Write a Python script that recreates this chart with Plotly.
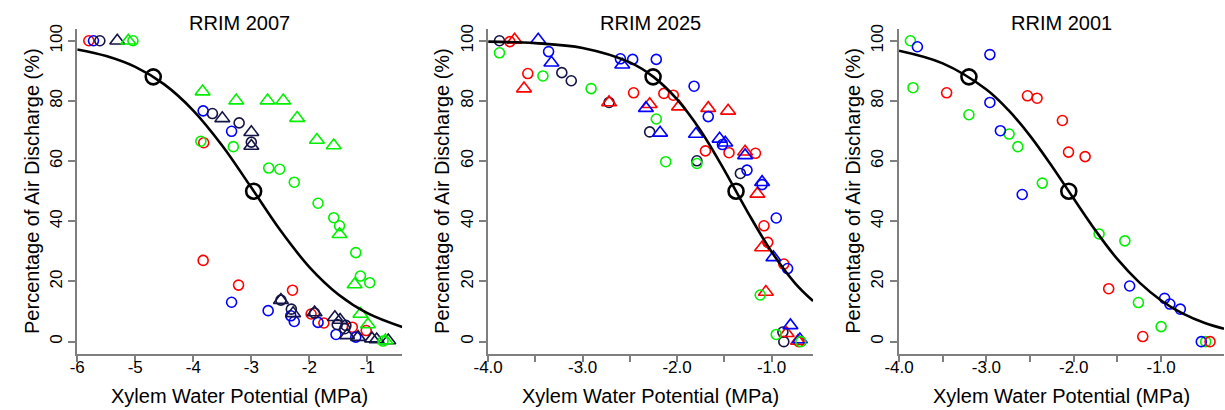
import plotly.graph_objects as go

# ---------------- DATA ----------------
panel_titles = ["RRIM 2007", "RRIM 2025", "RRIM 2001"]
x_title = "Xylem Water Potential (MPa)"
y_title = "Percentage of Air Discharge (%)"

y_tick_vals = [0, 20, 40, 60, 80, 100]
y_tick_text = ["0", "20", "40", "60", "80", "100"]

p1_tick_vals = [-6, -5, -4, -3, -2, -1]
p1_tick_text = ["-6", "-5", "-4", "-3", "-2", "-1"]
p23_tick_vals = [-4.0, -3.5, -3.0, -2.5, -2.0, -1.5, -1.0]
p23_tick_text = ["-4.0", "", "-3.0", "", "-2.0", "", "-1.0"]

# tree: R, B, G, N ; set: c (circle series), t (triangle series)
rrim2007_x = [-5.80, -3.82, -3.83, -3.22, -2.29, -1.97, -1.75, -1.26, -1.02,
              -5.72, -3.83, -3.34, -3.34, -2.71, -2.32, -2.26, -1.85, -1.54, -1.20,
              -5.61, -3.67, -3.21, -3.00, -2.49, -2.31, -1.91, -1.52, -1.39, -1.37,
              -5.31, -3.50, -3.00, -3.00, -2.49, -2.28, -1.91, -1.56, -1.47, -1.35, -1.16, -0.92, -0.84, -0.64,
              -5.12, -3.84, -3.26, -2.72, -2.45, -2.21, -1.87, -1.58, -1.48, -1.22, -1.12, -0.99, -0.69,
              -5.04, -3.87, -3.31, -2.70, -2.51, -2.26, -1.85, -1.58, -1.48, -1.20, -1.12, -0.96, -0.73]
rrim2007_y = [100, 66.1, 27.0, 18.8, 17.1, 9.2, 6.2, 4.8, 3.7,
              100, 76.7, 69.9, 13.1, 10.3, 8.6, 6.7, 6.4, 2.4, 1.5,
              100, 75.8, 72.7, 66.3, 13.8, 10.8, 9.5, 5.7, 4.3, 5.4,
              100, 74.2, 69.6, 65.0, 13.8, 9.4, 9.7, 8.1, 7.2, 2.1, 1.5, 1.0, 0.7, 0.4,
              100, 83.1, 80.1, 80.1, 80.1, 74.3, 67.0, 65.2, 35.7, 19.0, 9.2, 5.7, 0.4,
              100, 66.6, 64.8, 57.7, 57.3, 53.0, 46.0, 41.2, 38.5, 29.6, 21.8, 19.6, 0.2]
rrim2007_tree = ["R"] * 9 + ["B"] * 10 + ["N"] * 10 + ["N"] * 14 + ["G"] * 13 + ["G"] * 13
rrim2007_set = ["c"] * 9 + ["c"] * 10 + ["c"] * 10 + ["t"] * 14 + ["t"] * 13 + ["c"] * 13

rrim2025_x = [-3.88, -3.22, -3.12, -2.72, -2.29, -1.79, -1.33, -0.88, -0.87,
              -3.77, -3.58, -2.46, -2.14, -2.04, -1.70, -1.45, -1.17, -1.08, -1.04, -0.87, -0.71,
              -3.72, -3.62, -2.72, -2.29, -1.98, -1.67, -1.46, -1.28, -1.15, -1.10, -1.06, -0.84, -0.72,
              -3.47, -3.33, -2.58, -2.33, -2.18, -1.80, -1.55, -1.49, -1.28, -1.10, -0.98, -0.80, -0.70,
              -3.36, -2.60, -2.47, -2.22, -1.82, -1.67, -1.52, -1.26, -1.10, -0.95, -0.83,
              -3.88, -3.42, -2.91, -2.22, -2.12, -1.79, -1.12, -0.95, -0.69]
rrim2025_y = [100, 89.4, 86.7, 79.5, 69.7, 60.1, 55.9, 3.2, 0.0,
              99.7, 89.1, 82.7, 82.5, 81.9, 63.4, 62.8, 62.6, 38.5, 33.0, 25.8, 0.0,
              100.3, 84.1, 79.5, 78.9, 78.1, 77.6, 76.7, 63.1, 49.1, 31.3, 16.5, 2.8, 0.2,
              100.3, 92.7, 92.0, 77.6, 69.4, 69.0, 67.4, 66.1, 61.9, 53.0, 28.0, 5.4, 0.7,
              96.4, 94.0, 93.8, 93.8, 84.9, 74.8, 65.5, 57.0, 52.2, 41.1, 24.3,
              96.0, 88.3, 84.1, 74.0, 59.8, 59.2, 15.5, 2.4, 0.0]
rrim2025_tree = ["N"] * 9 + ["R"] * 12 + ["R"] * 13 + ["B"] * 13 + ["B"] * 11 + ["G"] * 9
rrim2025_set = ["c"] * 9 + ["c"] * 12 + ["t"] * 13 + ["t"] * 13 + ["c"] * 11 + ["c"] * 9

rrim2001_x = [-3.87, -3.84, -3.20, -2.74, -2.64, -2.36, -1.71, -1.415, -1.26, -1.00, -0.49,
              -3.79, -2.96, -2.96, -2.84, -2.59, -1.36, -0.96, -0.90, -0.78, -0.54,
              -3.455, -2.53, -2.42, -2.13, -2.06, -1.87, -1.60, -1.21, -0.44]
rrim2001_y = [100, 84.4, 75.4, 69.0, 64.8, 52.7, 35.8, 33.5, 13.0, 5.0, 0.0,
              98.0, 95.4, 79.5, 70.1, 48.9, 18.5, 14.4, 12.5, 10.8, 0.0,
              82.7, 81.7, 80.9, 73.5, 63.0, 61.5, 17.6, 1.7, 0.0]
rrim2001_tree = ["G"] * 11 + ["B"] * 10 + ["R"] * 9
rrim2001_set = ["c"] * 30

# fitted vulnerability curves
curve2007_x = [-6.0, -5.5, -5.0, -4.5, -4.0, -3.5, -3.0, -2.5, -2.0, -1.5, -1.0, -0.4]
curve2007_y = [97.1, 94.9, 91.3, 85.5, 76.8, 65.1, 51.2, 37.0, 24.8, 15.7, 9.5, 4.9]
curve2025_x = [-4.0, -3.5, -3.0, -2.5, -2.25, -2.0, -1.75, -1.5, -1.25, -1.0, -0.75, -0.56]
curve2025_y = [99.7, 99.2, 97.6, 92.8, 88.0, 80.5, 70.1, 57.0, 42.9, 29.9, 19.4, 13.5]
curve2001_x = [-4.0, -3.5, -3.0, -2.75, -2.5, -2.25, -2.0, -1.75, -1.5, -1.25, -1.0, -0.75, -0.5, -0.28]
curve2001_y = [96.7, 92.5, 83.8, 77.0, 68.4, 58.3, 47.5, 36.9, 27.4, 19.7, 13.7, 9.3, 6.2, 4.3]

# P12 / P50 points on the curves
p_marks_2007_x = [-4.69, -2.96]
p_marks_2025_x = [-2.254, -1.376]
p_marks_2001_x = [-3.20, -2.057]
p_marks_y = [88, 50]

# ---------------- STYLE ----------------
FONT = "Liberation Sans, Arial, sans-serif"
tree_colors = {"R": "#ff0000", "B": "#0000ff", "G": "#00f000", "N": "#141446"}
set_symbols = {"c": "circle-open", "t": "triangle-up-open"}
set_sizes = {"c": 10, "t": 13}
AXIS_GRAY = "#7f7f7f"

W, H = 1225, 410
plot_left = [63, 479, 895]
plot_w = 329
plot_top, plot_bot = 24, 353

fig = go.Figure()

panels = [
    (rrim2007_x, rrim2007_y, rrim2007_tree, rrim2007_set, curve2007_x, curve2007_y, p_marks_2007_x,
     [-6.0, -0.4], p1_tick_vals, p1_tick_text),
    (rrim2025_x, rrim2025_y, rrim2025_tree, rrim2025_set, curve2025_x, curve2025_y, p_marks_2025_x,
     [-4.0, -0.56], p23_tick_vals, p23_tick_text),
    (rrim2001_x, rrim2001_y, rrim2001_tree, rrim2001_set, curve2001_x, curve2001_y, p_marks_2001_x,
     [-4.0, -0.28], p23_tick_vals, p23_tick_text),
]

annotations = []
for i, (xs, ys, trees, sets, cx, cy, pmx, xr, tv, tt) in enumerate(panels):
    n = "" if i == 0 else str(i + 1)
    xa, ya = "x" + n, "y" + n
    groups = []
    for t, s in zip(trees, sets):
        if (t, s) not in groups:
            groups.append((t, s))
    for t, s in groups:
        gx = [x for x, tt_, ss in zip(xs, trees, sets) if tt_ == t and ss == s]
        gy = [y for y, tt_, ss in zip(ys, trees, sets) if tt_ == t and ss == s]
        fig.add_trace(go.Scatter(
            x=gx, y=gy, mode="markers", xaxis=xa, yaxis=ya, showlegend=False,
            marker=dict(symbol=set_symbols[s], size=set_sizes[s], color=tree_colors[t],
                        line=dict(width=1.6, color=tree_colors[t])),
            cliponaxis=False))
    fig.add_trace(go.Scatter(x=cx, y=cy, mode="lines", xaxis=xa, yaxis=ya, showlegend=False,
                             line=dict(color="black", width=2.6, shape="spline", smoothing=1.0)))
    fig.add_trace(go.Scatter(x=pmx, y=p_marks_y, mode="markers", xaxis=xa, yaxis=ya, showlegend=False,
                             marker=dict(symbol="circle-open", size=15, color="black",
                                         line=dict(width=2.6, color="black"))))
    x0 = plot_left[i] / W
    x1 = (plot_left[i] + plot_w) / W
    axis_common = dict(showline=True, linecolor=AXIS_GRAY, linewidth=1.5, ticks="outside",
                       ticklen=7, tickwidth=1.5, tickcolor=AXIS_GRAY, showgrid=False,
                       zeroline=False, tickfont=dict(family=FONT, size=17, color="black"))
    fig.update_layout(**{
        "xaxis" + n: dict(domain=[x0, x1], range=xr, tickmode="array", tickvals=tv, ticktext=tt,
                          anchor=ya, ticklabelstandoff=-10, **axis_common),
        "yaxis" + n: dict(domain=[1 - plot_bot / H, 1 - plot_top / H], range=[-4, 104],
                          tickmode="array", tickvals=y_tick_vals, ticktext=y_tick_text,
                          tickangle=-90, anchor=xa, **axis_common),
    })
    cxp = (plot_left[i] + plot_w / 2) / W
    annotations.append(dict(text=panel_titles[i], x=cxp, y=1 - 18 / H, xref="paper", yref="paper",
                            showarrow=False, xanchor="center", yanchor="middle",
                            font=dict(family=FONT, size=20, color="black")))
    annotations.append(dict(text=x_title, x=cxp, y=1 - 396 / H, xref="paper", yref="paper",
                            showarrow=False, xanchor="center", yanchor="middle",
                            font=dict(family=FONT, size=20, color="black")))
    annotations.append(dict(text=y_title, x=(plot_left[i] - 46) / W, y=1 - ((plot_top + plot_bot) / 2) / H,
                            xref="paper", yref="paper", textangle=-90,
                            showarrow=False, xanchor="center", yanchor="middle",
                            font=dict(family=FONT, size=20, color="black")))

fig.update_layout(width=W, height=H, margin=dict(l=0, r=0, t=0, b=0),
                  paper_bgcolor="white", plot_bgcolor="white", showlegend=False,
                  annotations=annotations)

fig.write_html("out.html")
